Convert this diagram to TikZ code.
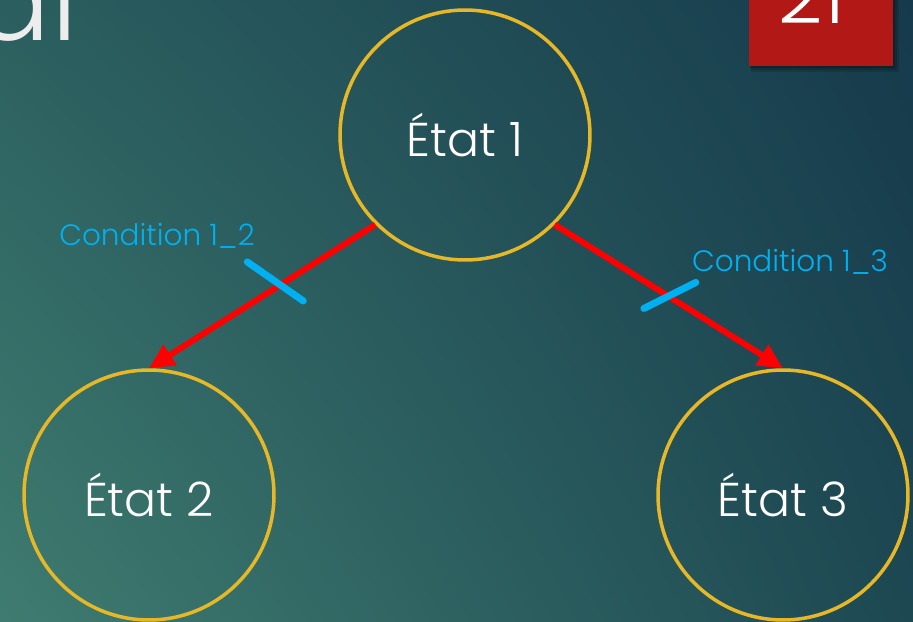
\documentclass[tikz,border=0pt]{standalone}
\usepackage{fontspec}
\setmainfont{Poppins Light}
\usetikzlibrary{arrows.meta,shadows,shadings,calc,positioning}

\definecolor{bgtl}{HTML}{2B5F5F}
\definecolor{bgbl}{HTML}{3F7C70}
\definecolor{bgtr}{HTML}{163A4C}
\definecolor{bgbr}{HTML}{1D4852}
\definecolor{ring}{HTML}{E6B727}
\definecolor{arrowred}{HTML}{FF0000}
\definecolor{condblue}{HTML}{00B0F0}
\definecolor{boxred}{HTML}{B21815}

\begin{document}
\begin{tikzpicture}[x=0.02cm,y=-0.02cm,
    etat/.style={circle,draw=ring,line width=2pt,minimum size=5cm,
      text=white,font=\fontsize{27}{32}\selectfont},
    trans/.style={draw=arrowred,line width=3.4pt,
      -{Triangle[length=0.5cm,width=0.46cm]}},
    barre/.style={draw=condblue,line width=4pt,line cap=round},
    condlabel/.style={text=condblue,inner sep=0pt,
      font=\fontsize{16.8}{20}\selectfont}]
  % Frame of the slide
  \useasboundingbox (0,0) rectangle (913,622);
  \clip (0,0) rectangle (913,622);

  % Background
  \shade[upper left=bgtl,lower left=bgbl,upper right=bgtr,lower right=bgbr]
    (0,0) rectangle (913,622);

  % Title (cut off) and slide number
  \node[anchor=base east,inner sep=0pt,text=white!93!black,
    font=\fontsize{66}{66}\selectfont] (titre) at (78,40) {al};
  \fill[black,opacity=0.12] (751,-20) rectangle (899,72);
  \fill[black,opacity=0.15] (751,-20) rectangle (897,70);
  \fill[black,opacity=0.2] (750,-20) rectangle (895,68);
  \fill[boxred] (749,-20) rectangle (893,66);
  \node[anchor=base,inner sep=0pt,text=white,
    font=\fontsize{44}{44}\selectfont] (numero) at (812,24) {21};

  % States
  \node[etat] (etat1) at (465,135) {État 1};
  \node[etat] (etat2) at (149,495) {État 2};
  \node[etat] (etat3) at (783,495) {État 3};

  % Transitions
  \draw[trans] (etat1.south west) -- coordinate[pos=0.42] (c12) (etat2.north);
  \draw[trans] (etat1.south east) -- coordinate[pos=0.5] (c13) (etat3.north);

  % Conditions
  \draw[barre] ($(c12)+(-33,-23)$) -- ($(c12)+(23,16)$);
  \draw[barre] ($(c13)+(-25,12)$) -- ($(c13)+(27,-14)$);
  \node[condlabel] (cond12) at (157,236) {Condition 1\_2};
  \node[condlabel] (cond13) at (790,262) {Condition 1\_3};
\end{tikzpicture}
\end{document}
